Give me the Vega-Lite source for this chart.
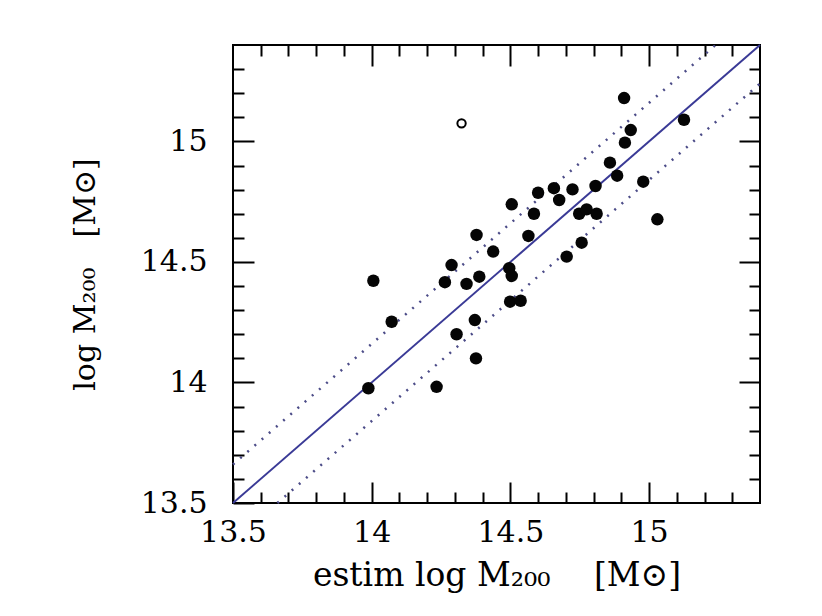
{
  "$schema": "https://vega.github.io/schema/vega-lite/v6.json",
  "autosize": "none",
  "width": 527,
  "height": 458,
  "padding": {"left": 233, "top": 45, "right": 62, "bottom": 113},
  "background": "white",
  "config": {
    "view": {"stroke": "#000000", "strokeWidth": 2},
    "axis": {
      "grid": false,
      "domain": false,
      "tickColor": "#000000",
      "tickWidth": 2,
      "labelFont": "DejaVu Serif",
      "labelFontSize": 30,
      "labelColor": "#000000",
      "titleFont": "DejaVu Serif",
      "titleColor": "#000000",
      "titleFontWeight": "normal",
      "labelFlush": false,
      "labelOverlap": false
    }
  },
  "datasets": {
    "filled": [
      {"est": 14.91, "m200": 15.18}, {"est": 15.126, "m200": 15.09}, {"est": 14.934, "m200": 15.047},
      {"est": 14.913, "m200": 14.995}, {"est": 14.859, "m200": 14.912}, {"est": 14.885, "m200": 14.858},
      {"est": 14.979, "m200": 14.833}, {"est": 14.807, "m200": 14.815}, {"est": 14.724, "m200": 14.801},
      {"est": 14.657, "m200": 14.806}, {"est": 14.6, "m200": 14.787}, {"est": 14.676, "m200": 14.757},
      {"est": 14.505, "m200": 14.739}, {"est": 14.585, "m200": 14.7}, {"est": 14.748, "m200": 14.7},
      {"est": 14.775, "m200": 14.718}, {"est": 14.811, "m200": 14.7}, {"est": 15.03, "m200": 14.677},
      {"est": 14.565, "m200": 14.608}, {"est": 14.757, "m200": 14.58}, {"est": 14.438, "m200": 14.543},
      {"est": 14.703, "m200": 14.522}, {"est": 14.378, "m200": 14.612}, {"est": 14.288, "m200": 14.487},
      {"est": 14.496, "m200": 14.474}, {"est": 14.505, "m200": 14.442}, {"est": 14.388, "m200": 14.439},
      {"est": 14.264, "m200": 14.416}, {"est": 14.342, "m200": 14.409}, {"est": 14.006, "m200": 14.422},
      {"est": 14.499, "m200": 14.335}, {"est": 14.537, "m200": 14.339}, {"est": 14.072, "m200": 14.252},
      {"est": 14.372, "m200": 14.259}, {"est": 14.306, "m200": 14.2}, {"est": 14.376, "m200": 14.1},
      {"est": 13.988, "m200": 13.976}, {"est": 14.234, "m200": 13.982}
    ],
    "open": [{"est": 14.324, "m200": 15.075}],
    "solid": [{"xa": 13.5, "ya": 13.5, "xb": 15.4, "yb": 15.4}],
    "dotted": [
      {"xa": 13.5, "ya": 13.66, "xb": 15.24, "yb": 15.4},
      {"xa": 13.66, "ya": 13.5, "xb": 15.4, "yb": 15.24}
    ]
  },
  "resolve": {"axis": {"x": "independent", "y": "independent"}},
  "layer": [
    {
      "data": {"name": "solid"},
      "mark": {"type": "rule", "color": "#3a3a96", "strokeWidth": 2},
      "encoding": {
        "x": {"field": "xa", "type": "quantitative", "scale": {"domain": [13.5, 15.4], "nice": false, "zero": false},
              "axis": {"orient": "top", "values": [14, 14.5, 15], "tickSize": -21, "labels": false, "title": null}},
        "y": {"field": "ya", "type": "quantitative", "scale": {"domain": [13.5, 15.4], "nice": false, "zero": false},
              "axis": {"orient": "right", "values": [14, 14.5, 15], "tickSize": -21, "labels": false, "title": null}},
        "x2": {"field": "xb"},
        "y2": {"field": "yb"}
      }
    },
    {
      "data": {"name": "dotted"},
      "mark": {"type": "rule", "color": "#4c4c88", "strokeWidth": 2.5, "strokeDash": [2, 7.5]},
      "encoding": {
        "x": {"field": "xa", "type": "quantitative", "scale": {"domain": [13.5, 15.4], "nice": false, "zero": false},
              "axis": {"orient": "top", "values": [13.6, 13.7, 13.8, 13.9, 14.1, 14.2, 14.3, 14.4, 14.6, 14.7, 14.8, 14.9, 15.1, 15.2, 15.3], "tickSize": -11, "labels": false, "title": null}},
        "y": {"field": "ya", "type": "quantitative", "scale": {"domain": [13.5, 15.4], "nice": false, "zero": false},
              "axis": {"orient": "right", "values": [13.6, 13.7, 13.8, 13.9, 14.1, 14.2, 14.3, 14.4, 14.6, 14.7, 14.8, 14.9, 15.1, 15.2, 15.3], "tickSize": -11, "labels": false, "title": null}},
        "x2": {"field": "xb"},
        "y2": {"field": "yb"}
      }
    },
    {
      "data": {"name": "filled"},
      "mark": {"type": "point", "shape": "circle", "filled": true, "size": 155, "color": "#050505", "opacity": 1},
      "encoding": {
        "x": {"field": "est", "type": "quantitative", "scale": {"domain": [13.5, 15.4], "nice": false, "zero": false},
              "axis": {"orient": "bottom", "values": [13.5, 14, 14.5, 15], "format": "~g", "tickSize": -21, "labelPadding": 35,
                       "title": "estim log M₂₀₀\u2003 [M⊙]", "titleFontSize": 33, "titlePadding": 12}},
        "y": {"field": "m200", "type": "quantitative", "scale": {"domain": [13.5, 15.4], "nice": false, "zero": false},
              "axis": {"orient": "left", "values": [13.5, 14, 14.5, 15], "format": "~g", "tickSize": -21, "labelPadding": 47,
                       "title": "log M₂₀₀\u2003[M⊙]", "titleFontSize": 30, "titlePadding": 40}}
      }
    },
    {
      "data": {"name": "open"},
      "mark": {"type": "point", "shape": "circle", "filled": false, "size": 70, "color": "#000000", "strokeWidth": 2, "opacity": 1},
      "encoding": {
        "x": {"field": "est", "type": "quantitative", "scale": {"domain": [13.5, 15.4], "nice": false, "zero": false},
              "axis": {"orient": "bottom", "values": [13.6, 13.7, 13.8, 13.9, 14.1, 14.2, 14.3, 14.4, 14.6, 14.7, 14.8, 14.9, 15.1, 15.2, 15.3], "tickSize": -11, "labels": false, "title": null}},
        "y": {"field": "m200", "type": "quantitative", "scale": {"domain": [13.5, 15.4], "nice": false, "zero": false},
              "axis": {"orient": "left", "values": [13.6, 13.7, 13.8, 13.9, 14.1, 14.2, 14.3, 14.4, 14.6, 14.7, 14.8, 14.9, 15.1, 15.2, 15.3], "tickSize": -11, "labels": false, "title": null}}
      }
    }
  ]
}
